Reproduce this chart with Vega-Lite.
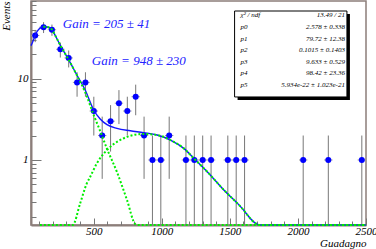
{
  "$schema": "https://vega.github.io/schema/vega-lite/v6.json",
  "width": 335,
  "height": 224,
  "autosize": {"type": "none"},
  "padding": {"left": 31, "top": 1, "right": 10, "bottom": 24},
  "background": "white",
  "config": {
    "view": {"stroke": "#8c7e7a", "strokeWidth": 1.5},
    "axis": {
      "grid": false,
      "domainColor": "#8c7e7a",
      "domainWidth": 2,
      "tickColor": "#777777",
      "tickWidth": 1,
      "labelFont": "Liberation Serif",
      "labelFontStyle": "italic",
      "labelFontSize": 11,
      "labelColor": "#000000",
      "labelOverlap": false,
      "labelFlush": false,
      "titleFont": "Liberation Serif",
      "titleFontStyle": "italic",
      "titleFontWeight": "normal",
      "titleFontSize": 11,
      "titleColor": "#000000"
    }
  },
  "resolve": {"axis": {"x": "independent", "y": "independent"}},
  "datasets": {
    "hist": [
      {"x": 70.75, "n": 34, "lo": 28.17, "hi": 39.83, "xlo": 40, "xhi": 101.5},
      {"x": 132.25, "n": 43, "lo": 36.44, "hi": 49.56, "xlo": 101.5, "xhi": 163},
      {"x": 193.75, "n": 40, "lo": 33.68, "hi": 46.32, "xlo": 163, "xhi": 224.5},
      {"x": 255.25, "n": 23, "lo": 18.2, "hi": 27.8, "xlo": 224.5, "xhi": 286},
      {"x": 316.75, "n": 18, "lo": 13.76, "hi": 22.24, "xlo": 286, "xhi": 347.5},
      {"x": 378.25, "n": 9, "lo": 6, "hi": 12, "xlo": 347.5, "xhi": 409},
      {"x": 439.75, "n": 9, "lo": 6, "hi": 12, "xlo": 409, "xhi": 470.5},
      {"x": 501.25, "n": 4, "lo": 2, "hi": 6, "xlo": 470.5, "xhi": 532},
      {"x": 562.75, "n": 2, "lo": 0.586, "hi": 3.414, "xlo": 532, "xhi": 593.5},
      {"x": 624.25, "n": 3, "lo": 1.268, "hi": 4.732, "xlo": 593.5, "xhi": 655},
      {"x": 685.75, "n": 5, "lo": 2.764, "hi": 7.236, "xlo": 655, "xhi": 716.5},
      {"x": 747.25, "n": 4, "lo": 2, "hi": 6, "xlo": 716.5, "xhi": 778},
      {"x": 808.75, "n": 6, "lo": 3.551, "hi": 8.449, "xlo": 778, "xhi": 839.5},
      {"x": 870.25, "n": 2, "lo": 0.586, "hi": 3.414, "xlo": 839.5, "xhi": 901},
      {"x": 931.75, "n": 1, "lo": 0.01, "hi": 2, "xlo": 901, "xhi": 962.5},
      {"x": 993.25, "n": 1, "lo": 0.01, "hi": 2, "xlo": 962.5, "xhi": 1024},
      {"x": 1054.75, "n": 2, "lo": 0.586, "hi": 3.414, "xlo": 1024, "xhi": 1085.5},
      {"x": 1177.75, "n": 1, "lo": 0.01, "hi": 2, "xlo": 1147, "xhi": 1208.5},
      {"x": 1239.25, "n": 1, "lo": 0.01, "hi": 2, "xlo": 1208.5, "xhi": 1270},
      {"x": 1300.75, "n": 1, "lo": 0.01, "hi": 2, "xlo": 1270, "xhi": 1331.5},
      {"x": 1362.25, "n": 1, "lo": 0.01, "hi": 2, "xlo": 1331.5, "xhi": 1393},
      {"x": 1485.25, "n": 1, "lo": 0.01, "hi": 2, "xlo": 1454.5, "xhi": 1516},
      {"x": 1546.75, "n": 1, "lo": 0.01, "hi": 2, "xlo": 1516, "xhi": 1577.5},
      {"x": 1608.25, "n": 1, "lo": 0.01, "hi": 2, "xlo": 1577.5, "xhi": 1639},
      {"x": 2038.75, "n": 1, "lo": 0.01, "hi": 2, "xlo": 2008, "xhi": 2069.5},
      {"x": 2223.25, "n": 1, "lo": 0.01, "hi": 2, "xlo": 2192.5, "xhi": 2254},
      {"x": 2469.25, "n": 1, "lo": 0.01, "hi": 2, "xlo": 2438.5, "xhi": 2500}
    ],
    "total": [
      {"x": 40, "v": 25.5}, {"x": 50, "v": 27.7}, {"x": 84, "v": 38}, {"x": 131, "v": 43.6},
      {"x": 160, "v": 43.2}, {"x": 192, "v": 40.5}, {"x": 220, "v": 33.5}, {"x": 254, "v": 26},
      {"x": 315, "v": 17.3}, {"x": 377, "v": 11.1}, {"x": 438, "v": 7.26}, {"x": 500, "v": 4.12},
      {"x": 548, "v": 3.2}, {"x": 598, "v": 2.72}, {"x": 671, "v": 2.45}, {"x": 769, "v": 2.29},
      {"x": 867, "v": 2.17}, {"x": 966, "v": 2.03}, {"x": 1064, "v": 1.76}, {"x": 1162, "v": 1.39},
      {"x": 1235, "v": 1.05}, {"x": 1334, "v": 0.718}, {"x": 1456, "v": 0.428}, {"x": 1579, "v": 0.267},
      {"x": 1690, "v": 0.166}, {"x": 1720, "v": 0.12}, {"x": 2500, "v": 0.01}
    ],
    "parts": [
      {"c": "g1", "x": 131, "v": 43.6}, {"c": "g1", "x": 160, "v": 43.2}, {"c": "g1", "x": 192, "v": 40.5},
      {"c": "g1", "x": 220, "v": 33.5}, {"c": "g1", "x": 254, "v": 26}, {"c": "g1", "x": 315, "v": 17.3},
      {"c": "g1", "x": 377, "v": 11.0}, {"c": "g1", "x": 438, "v": 6.8}, {"c": "g1", "x": 504, "v": 3.45},
      {"c": "g1", "x": 548, "v": 2.27}, {"c": "g1", "x": 596, "v": 1.4}, {"c": "g1", "x": 671, "v": 0.712},
      {"c": "g1", "x": 745, "v": 0.322}, {"c": "g1", "x": 806, "v": 0.163}, {"c": "g1", "x": 830, "v": 0.12},
      {"c": "g1", "x": 2500, "v": 0.01},
      {"c": "g2", "x": 105, "v": 0.01}, {"c": "g2", "x": 330, "v": 0.12}, {"c": "g2", "x": 347, "v": 0.159},
      {"c": "g2", "x": 401, "v": 0.293}, {"c": "g2", "x": 450, "v": 0.517}, {"c": "g2", "x": 475, "v": 0.623},
      {"c": "g2", "x": 524, "v": 0.911}, {"c": "g2", "x": 598, "v": 1.327}, {"c": "g2", "x": 696, "v": 1.763},
      {"c": "g2", "x": 794, "v": 2.03}, {"c": "g2", "x": 867, "v": 2.09}, {"c": "g2", "x": 966, "v": 2.03},
      {"c": "g2", "x": 1064, "v": 1.76}, {"c": "g2", "x": 1162, "v": 1.39}, {"c": "g2", "x": 1235, "v": 1.05},
      {"c": "g2", "x": 1334, "v": 0.718}, {"c": "g2", "x": 1456, "v": 0.428}, {"c": "g2", "x": 1579, "v": 0.267},
      {"c": "g2", "x": 1690, "v": 0.166}, {"c": "g2", "x": 1720, "v": 0.12}, {"c": "g2", "x": 2500, "v": 0.01}
    ],
    "one": [{}]
  },
  "layer": [
    {
      "data": {"name": "hist"},
      "mark": {"type": "rule", "color": "#777777", "strokeWidth": 1},
      "encoding": {
        "x": {
          "field": "x", "type": "quantitative", "title": "Guadagno",
          "scale": {"domain": [40, 2500], "nice": false, "zero": false},
          "axis": {
            "orient": "bottom",
            "values": [500, 1000, 1500, 2000, 2500],
            "format": "d",
            "tickSize": -7,
            "labelPadding": 7,
            "labelBaseline": "top",
            "titleAnchor": "end",
            "titleAlign": "right",
            "titleX": 335,
            "titleY": 18,
            "titleBaseline": "middle"
          }
        },
        "y": {
          "field": "lo", "type": "quantitative", "title": "Events",
          "scale": {"type": "log", "domain": [0.1586, 90.3], "nice": false, "clamp": true},
          "axis": {
            "orient": "left",
            "values": [1, 10],
            "format": "d",
            "tickSize": -10,
            "labelPadding": 13,
            "titleAngle": -90,
            "titleAlign": "right",
            "titleBaseline": "middle",
            "titleX": -25,
            "titleY": 0
          }
        },
        "y2": {"field": "hi"}
      }
    },
    {
      "data": {"name": "hist"},
      "mark": {"type": "rule", "color": "#999999", "strokeWidth": 1},
      "encoding": {
        "x": {
          "field": "xlo", "type": "quantitative",
          "scale": {"domain": [40, 2500], "nice": false, "zero": false},
          "axis": {
            "orient": "bottom",
            "values": [100, 200, 300, 400, 600, 700, 800, 900, 1100, 1200, 1300, 1400, 1600, 1700, 1800, 1900, 2100, 2200, 2300, 2400],
            "labels": false, "domain": false, "title": null, "tickSize": -4
          }
        },
        "x2": {"field": "xhi"},
        "y": {
          "field": "n", "type": "quantitative",
          "scale": {"type": "log", "domain": [0.1586, 90.3], "nice": false, "clamp": true},
          "axis": {
            "orient": "left",
            "values": [0.2, 0.3, 0.4, 0.5, 0.6, 0.7, 0.8, 0.9, 2, 3, 4, 5, 6, 7, 8, 9, 20, 30, 40, 50, 60, 70, 80, 90],
            "labels": false, "domain": false, "title": null, "tickSize": -5
          }
        }
      }
    },
    {
      "data": {"name": "hist"},
      "mark": {"type": "circle", "color": "#0000ff", "opacity": 1, "size": 36},
      "encoding": {
        "x": {"field": "x", "type": "quantitative", "axis": null, "scale": {"domain": [40, 2500], "nice": false, "zero": false}},
        "y": {"field": "n", "type": "quantitative", "axis": null, "scale": {"type": "log", "domain": [0.1586, 90.3], "nice": false, "clamp": true}}
      }
    },
    {
      "data": {"name": "total"},
      "mark": {"type": "line", "color": "#1414ff", "strokeWidth": 1.4, "interpolate": "monotone"},
      "encoding": {
        "x": {"field": "x", "type": "quantitative", "axis": null, "scale": {"domain": [40, 2500], "nice": false, "zero": false}},
        "y": {"field": "v", "type": "quantitative", "axis": null, "scale": {"type": "log", "domain": [0.1586, 90.3], "nice": false, "clamp": true}}
      }
    },
    {
      "data": {"name": "parts"},
      "mark": {"type": "line", "color": "#00ee00", "strokeWidth": 2, "strokeDash": [2, 2], "interpolate": "monotone"},
      "encoding": {
        "x": {"field": "x", "type": "quantitative", "axis": null, "scale": {"domain": [40, 2500], "nice": false, "zero": false}},
        "y": {"field": "v", "type": "quantitative", "axis": null, "scale": {"type": "log", "domain": [0.1586, 90.3], "nice": false, "clamp": true}},
        "detail": {"field": "c", "type": "nominal"}
      }
    },
    {
      "data": {"name": "one"},
      "mark": {"type": "text", "text": "Gain = 205 ± 41", "align": "left", "baseline": "middle", "font": "Liberation Serif", "fontStyle": "italic", "fontSize": 13, "color": "#2222ff"},
      "encoding": {
        "x": {"datum": 273.5, "type": "quantitative", "axis": null, "scale": {"domain": [40, 2500], "nice": false, "zero": false}},
        "y": {"datum": 47.1, "type": "quantitative", "axis": null, "scale": {"type": "log", "domain": [0.1586, 90.3], "nice": false, "clamp": true}}
      }
    },
    {
      "data": {"name": "one"},
      "mark": {"type": "text", "text": "Gain = 948 ± 230", "align": "left", "baseline": "middle", "font": "Liberation Serif", "fontStyle": "italic", "fontSize": 13, "color": "#2222ff"},
      "encoding": {
        "x": {"datum": 487, "type": "quantitative", "axis": null, "scale": {"domain": [40, 2500], "nice": false, "zero": false}},
        "y": {"datum": 16.5, "type": "quantitative", "axis": null, "scale": {"type": "log", "domain": [0.1586, 90.3], "nice": false, "clamp": true}}
      }
    },
    {
      "data": {"name": "one"},
      "mark": {"type": "rect", "color": "#000000", "opacity": 1},
      "encoding": {
        "x": {"datum": 1557, "type": "quantitative", "axis": null, "scale": {"domain": [40, 2500], "nice": false, "zero": false}},
        "x2": {"datum": 2382},
        "y": {"datum": 62.4, "type": "quantitative", "axis": null, "scale": {"type": "log", "domain": [0.1586, 90.3], "nice": false, "clamp": true}},
        "y2": {"datum": 5.48}
      }
    },
    {
      "data": {"name": "one"},
      "mark": {"type": "rect", "fill": "#ffffff", "stroke": "#000000", "strokeWidth": 1, "opacity": 1},
      "encoding": {
        "x": {"datum": 1535, "type": "quantitative", "axis": null, "scale": {"domain": [40, 2500], "nice": false, "zero": false}},
        "x2": {"datum": 2360},
        "y": {"datum": 68, "type": "quantitative", "axis": null, "scale": {"type": "log", "domain": [0.1586, 90.3], "nice": false, "clamp": true}},
        "y2": {"datum": 5.96}
      }
    },
    {
      "data": {"name": "one"},
      "mark": {"type": "text", "text": ["χ² / ndf", "p0", "p1", "p2", "p3", "p4", "p5"], "align": "left", "baseline": "alphabetic", "lineHeight": 11.6, "font": "Liberation Serif", "fontStyle": "italic", "fontSize": 7, "color": "#000000"},
      "encoding": {
        "x": {"datum": 1579, "type": "quantitative", "axis": null, "scale": {"domain": [40, 2500], "nice": false, "zero": false}},
        "y": {"datum": 56.6, "type": "quantitative", "axis": null, "scale": {"type": "log", "domain": [0.1586, 90.3], "nice": false, "clamp": true}}
      }
    },
    {
      "data": {"name": "one"},
      "mark": {"type": "text", "text": ["13.49 / 21", "2.578 ± 0.338", "79.72 ± 12.38", "0.1015 ± 0.1403", "9.633 ± 0.529", "98.42 ± 23.36", "5.934e-22 ± 1.023e-21"], "align": "right", "baseline": "alphabetic", "lineHeight": 11.6, "font": "Liberation Serif", "fontStyle": "italic", "fontSize": 7, "color": "#000000"},
      "encoding": {
        "x": {"datum": 2345, "type": "quantitative", "axis": null, "scale": {"domain": [40, 2500], "nice": false, "zero": false}},
        "y": {"datum": 56.6, "type": "quantitative", "axis": null, "scale": {"type": "log", "domain": [0.1586, 90.3], "nice": false, "clamp": true}}
      }
    }
  ]
}
